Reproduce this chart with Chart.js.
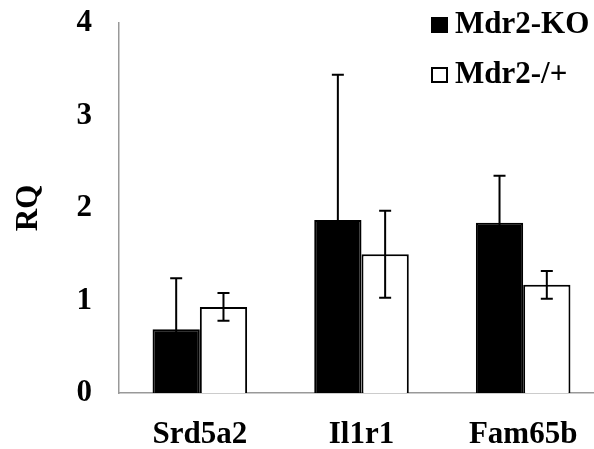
<!DOCTYPE html>
<html>
<head>
<meta charset="utf-8">
<script src="https://cdn.jsdelivr.net/npm/chart.js@4.4.1/dist/chart.umd.min.js"></script>
<style>
  html, body { margin: 0; padding: 0; background: #fff; overflow: hidden; }
  #wrap { width: 604px; height: 449px; }
</style>
</head>
<body>
<div id="wrap"><canvas id="rqChart" width="604" height="449"></canvas></div>
<script>
// data
const genes = ['Srd5a2', 'Il1r1', 'Fam65b'];
const koValues = [0.69, 1.87, 1.84];
const koErrors = [0.55, 1.57, 0.51];
const hetValues = [0.93, 1.50, 1.17];
const hetErrors = [0.15, 0.47, 0.15];
const yTicks = [0, 1, 2, 3, 4];
const seriesNames = ['Mdr2-KO', 'Mdr2-/+'];

const fontFamily = '"Liberation Serif", "Times New Roman", serif';

// error bars drawn from the bar elements and the y scale
const errorBars = {
    id: 'errorBars',
    afterDatasetsDraw(chart) {
        const ctx = chart.ctx;
        const y = chart.scales.y;
        chart.data.datasets.forEach(function (ds, i) {
            const meta = chart.getDatasetMeta(i);
            meta.data.forEach(function (bar, j) {
                const v = ds.data[j];
                const e = ds.errors[j];
                const top = y.getPixelForValue(v + e);
                const bot = y.getPixelForValue(v - e);
                ctx.save();
                ctx.strokeStyle = '#000';
                ctx.lineWidth = 2;
                ctx.beginPath();
                ctx.moveTo(bar.x, top);
                ctx.lineTo(bar.x, bot);
                ctx.moveTo(bar.x - 6, top);
                ctx.lineTo(bar.x + 6, top);
                ctx.moveTo(bar.x - 6, bot);
                ctx.lineTo(bar.x + 6, bot);
                ctx.stroke();
                ctx.restore();
            });
        });
    }
};

// legend in the top right corner
const cornerLegend = {
    id: 'cornerLegend',
    afterDraw(chart) {
        const ctx = chart.ctx;
        ctx.save();
        ctx.font = 'bold 31px ' + fontFamily;
        ctx.textBaseline = 'alphabetic';
        chart.data.datasets.forEach(function (ds, i) {
            const rowY = 17 + i * 50;
            ctx.fillStyle = ds.backgroundColor;
            ctx.fillRect(431, rowY, 17, 16);
            ctx.strokeStyle = '#000';
            ctx.lineWidth = 2;
            ctx.strokeRect(432, rowY + 1, 15, 14);
            ctx.fillStyle = '#000';
            ctx.fillText(ds.label, 455, rowY + 16);
        });
        ctx.restore();
    }
};

new Chart(document.getElementById('rqChart'), {
    type: 'bar',
    data: {
        labels: genes,
        datasets: [
            {
                label: seriesNames[0],
                data: koValues,
                errors: koErrors,
                backgroundColor: '#000',
                borderColor: '#000',
                borderWidth: 2
            },
            {
                label: seriesNames[1],
                data: hetValues,
                errors: hetErrors,
                backgroundColor: '#fff',
                borderColor: '#000',
                borderWidth: 2
            }
        ]
    },
    options: {
        responsive: false,
        animation: false,
        layout: { padding: { top: 23, left: 0, right: 0, bottom: 0 } },
        datasets: {
            bar: { categoryPercentage: 0.585, barPercentage: 1.0 }
        },
        plugins: {
            legend: { display: false },
            tooltip: { enabled: false }
        },
        scales: {
            x: {
                grid: { display: false, drawTicks: false },
                border: { display: true, color: '#999', width: 1.5 },
                ticks: {
                    padding: 23,
                    color: '#000',
                    font: { family: fontFamily, size: 31, weight: 'bold' }
                },
                afterFit(scale) {
                    scale.height = 56;
                    scale.paddingLeft = 0;
                    scale.paddingRight = 0;
                }
            },
            y: {
                min: 0,
                max: 4,
                grid: { display: false, drawTicks: false },
                border: { display: true, color: '#999', width: 1.5 },
                afterBuildTicks(scale) {
                    scale.ticks = yTicks.map(function (v) { return { value: v }; });
                },
                ticks: {
                    padding: 27,
                    color: '#000',
                    font: { family: fontFamily, size: 31, weight: 'bold' }
                },
                title: {
                    display: true,
                    text: 'RQ',
                    color: '#000',
                    padding: { top: 10, bottom: 0 },
                    font: { family: fontFamily, size: 31, weight: 'bold' }
                },
                afterFit(scale) {
                    scale.width = 119;
                    scale.paddingTop = 0;
                    scale.paddingBottom = 0;
                }
            }
        }
    },
    plugins: [errorBars, cornerLegend]
});
</script>
</body>
</html>
